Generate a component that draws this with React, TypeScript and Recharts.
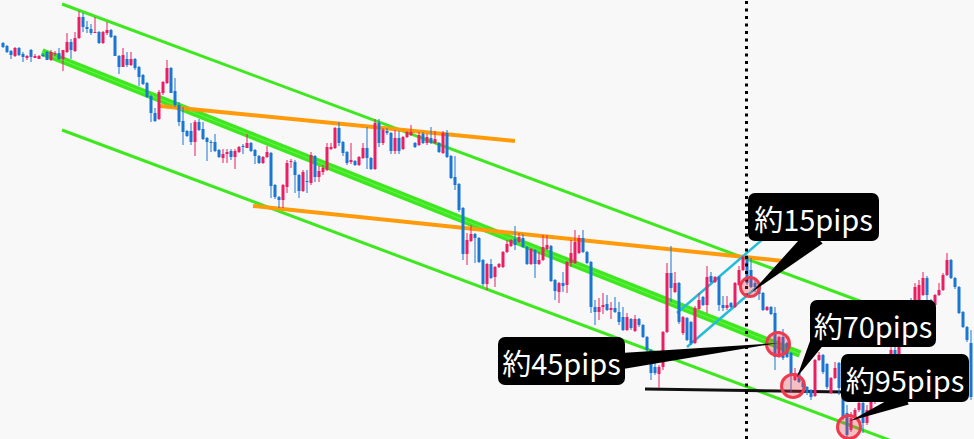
import React from "react";
import {
  ComposedChart,
  Bar,
  XAxis,
  YAxis,
  ReferenceLine,
  ReferenceDot,
  ReferenceArea,
} from "recharts";

// 5-minute candles, USD/JPY
const opens = [
  150.57, 150.54, 150.49, 150.44, 150.52, 150.46, 150.42, 150.5, 150.42, 150.41,
  150.45, 150.48, 150.4, 150.46, 150.47, 150.41, 150.48, 150.58, 150.49, 150.62,
  150.83, 150.73, 150.71, 150.67, 150.68, 150.57, 150.67, 150.7, 150.64, 150.44,
  150.33, 150.41, 150.35, 150.41, 150.33, 150.25, 150.17, 150.04, 149.87, 149.81,
  150.07, 150.17, 150.32, 150.09, 149.95, 149.79, 149.69, 149.69, 149.58, 149.78,
  149.71, 149.62, 149.58, 149.58, 149.5, 149.42, 149.46, 149.49, 149.43, 149.48,
  149.54, 149.52, 149.57, 149.5, 149.44, 149.37, 149.43, 149.47, 149.15, 149.03,
  149.0, 149.13, 149.38, 149.38, 149.25, 149.09, 149.19, 149.17, 149.44, 149.23,
  149.28, 149.3, 149.51, 149.52, 149.72, 149.58, 149.48, 149.38, 149.39, 149.35,
  149.42, 149.52, 149.42, 149.31, 149.77, 149.57, 149.69, 149.67, 149.49, 149.62,
  149.51, 149.63, 149.65, 149.57, 149.55, 149.66, 149.57, 149.62, 149.57, 149.57,
  149.47, 149.67, 149.44, 149.23, 149.16, 148.92, 148.46, 148.59, 148.66, 148.62,
  148.4, 148.16, 148.36, 148.23, 148.33, 148.33, 148.48, 148.54, 148.61, 148.58,
  148.62, 148.53, 148.36, 148.5, 148.36, 148.4, 148.51, 148.54, 148.2, 148.08,
  148.17, 148.15, 148.37, 148.37, 148.47, 148.62, 148.48, 148.38, 147.93, 147.88,
  147.93, 147.96, 147.9, 147.92, 147.88, 147.83, 147.7, 147.81, 147.69, 147.81,
  147.75, 147.63, 147.5, 147.33, 147.26, 147.33, 147.68, 148.27, 148.08, 148.17,
  147.67, 147.82, 147.78, 147.57, 147.91, 148.03, 147.95, 148.24, 148.18, 148.23,
  147.95, 147.92, 147.97, 147.93, 148.15, 148.3, 148.43, 148.3, 148.17, 148.13,
  148.07, 147.9, 147.93, 147.87, 147.43, 147.63, 147.57, 147.47, 147.2, 147.27,
  147.18, 147.13, 147.1, 147.04, 147.4, 147.45, 147.36, 147.07, 147.22, 147.37,
  147.12, 146.87, 146.7, 146.82, 146.9, 146.97, 146.77, 146.9, 146.98, 147.08,
  147.2, 147.12, 147.35, 147.5, 147.38, 147.65, 147.8, 147.95, 147.85, 148.0,
  148.05, 148.22, 148.0, 147.95, 148.05, 148.1, 148.25, 148.4, 148.22, 148.13,
  147.88, 147.73, 147.57,
];

const highs = [
  150.58, 150.55, 150.5, 150.53, 150.53, 150.48, 150.45, 150.51, 150.46, 150.45,
  150.47, 150.49, 150.5, 150.49, 150.52, 150.5, 150.67, 150.61, 150.68, 150.89,
  150.87, 150.79, 150.76, 150.83, 150.69, 150.69, 150.78, 150.71, 150.65, 150.45,
  150.52, 150.48, 150.48, 150.42, 150.34, 150.26, 150.18, 150.05, 149.92, 150.1,
  150.19, 150.4, 150.33, 150.22, 149.98, 149.93, 149.7, 149.77, 149.8, 149.81,
  149.78, 149.63, 149.6, 149.66, 149.51, 149.51, 149.51, 149.51, 149.51, 149.54,
  149.56, 149.66, 149.58, 149.51, 149.45, 149.44, 149.54, 149.48, 149.16, 149.04,
  149.16, 149.4, 149.41, 149.4, 149.26, 149.3, 149.3, 149.48, 149.45, 149.34,
  149.35, 149.57, 149.57, 149.73, 149.78, 149.59, 149.49, 149.57, 149.4, 149.44,
  149.57, 149.73, 149.43, 149.81, 149.81, 149.72, 149.72, 149.68, 149.7, 149.69,
  149.64, 149.69, 149.75, 149.58, 149.68, 149.68, 149.66, 149.73, 149.69, 149.58,
  149.69, 149.7, 149.45, 149.44, 149.17, 148.93, 148.67, 148.75, 148.67, 148.63,
  148.41, 148.37, 148.41, 148.34, 148.37, 148.49, 148.6, 148.61, 148.74, 148.67,
  148.66, 148.54, 148.52, 148.51, 148.48, 148.65, 148.65, 148.55, 148.21, 148.18,
  148.28, 148.39, 148.6, 148.7, 148.65, 148.7, 148.49, 148.39, 148.0, 148.02,
  148.07, 148.05, 147.98, 148.03, 147.98, 147.93, 147.87, 147.82, 147.85, 147.82,
  147.76, 147.64, 147.51, 147.4, 147.35, 147.69, 148.37, 148.54, 148.28, 148.18,
  147.84, 147.83, 147.79, 147.94, 148.07, 148.04, 148.34, 148.28, 148.24, 148.24,
  148.04, 148.04, 147.98, 148.18, 148.34, 148.44, 148.45, 148.42, 148.2, 148.14,
  148.08, 147.94, 147.94, 147.93, 147.64, 147.71, 147.58, 147.48, 147.32, 147.28,
  147.2, 147.14, 147.11, 147.41, 147.48, 147.46, 147.37, 147.23, 147.38, 147.38,
  147.13, 146.95, 146.88, 146.92, 147.0, 146.98, 146.95, 147.02, 147.12, 147.25,
  147.3, 147.4, 147.55, 147.6, 147.7, 147.82, 148.0, 148.02, 148.17, 148.2,
  148.28, 148.24, 148.01, 148.06, 148.17, 148.27, 148.47, 148.41, 148.23, 148.14,
  147.89, 147.74, 147.7,
];

const lows = [
  150.52, 150.47, 150.41, 150.43, 150.44, 150.38, 150.4, 150.38, 150.42, 150.41,
  150.43, 150.4, 150.39, 150.44, 150.4, 150.29, 150.47, 150.41, 150.48, 150.61,
  150.68, 150.67, 150.65, 150.67, 150.56, 150.56, 150.65, 150.62, 150.44, 150.26,
  150.33, 150.33, 150.34, 150.3, 150.14, 150.15, 150.02, 149.78, 149.78, 149.8,
  150.05, 150.16, 150.07, 149.93, 149.74, 149.55, 149.63, 149.55, 149.44, 149.69,
  149.6, 149.39, 149.48, 149.48, 149.42, 149.37, 149.37, 149.4, 149.31, 149.47,
  149.46, 149.52, 149.48, 149.36, 149.36, 149.36, 149.42, 149.02, 149.01, 148.92,
  148.92, 149.07, 149.32, 149.07, 149.02, 149.08, 149.07, 149.15, 149.18, 149.18,
  149.25, 149.29, 149.5, 149.51, 149.54, 149.44, 149.35, 149.36, 149.34, 149.34,
  149.41, 149.31, 149.3, 149.3, 149.53, 149.55, 149.65, 149.46, 149.46, 149.46,
  149.5, 149.62, 149.64, 149.52, 149.54, 149.56, 149.55, 149.56, 149.56, 149.47,
  149.46, 149.42, 149.21, 149.1, 148.88, 148.4, 148.35, 148.58, 148.37, 148.37,
  148.14, 148.1, 148.21, 148.13, 148.32, 148.32, 148.47, 148.53, 148.5, 148.57,
  148.52, 148.35, 148.35, 148.22, 148.35, 148.39, 148.5, 148.18, 148.0, 147.97,
  148.08, 148.07, 148.33, 148.36, 148.46, 148.47, 148.36, 147.87, 147.75, 147.8,
  147.86, 147.89, 147.81, 147.87, 147.75, 147.69, 147.69, 147.7, 147.68, 147.73,
  147.62, 147.48, 147.2, 147.25, 147.12, 147.3, 147.67, 147.98, 148.07, 147.76,
  147.65, 147.59, 147.55, 147.56, 147.9, 147.94, 147.87, 148.17, 148.17, 147.89,
  147.89, 147.9, 147.92, 147.92, 148.14, 148.29, 148.15, 148.12, 148.08, 148.0,
  147.89, 147.89, 147.85, 147.3, 147.42, 147.4, 147.42, 147.07, 147.19, 147.17,
  147.07, 147.05, 147.0, 147.03, 147.39, 147.26, 147.11, 147.06, 147.21, 147.05,
  146.8, 146.61, 146.68, 146.8, 146.88, 146.67, 146.75, 146.88, 146.96, 147.06,
  147.08, 147.1, 147.32, 147.36, 147.37, 147.6, 147.75, 147.8, 147.84, 147.98,
  148.04, 147.98, 147.88, 147.87, 148.04, 148.09, 148.24, 148.21, 148.11, 147.86,
  147.72, 147.58, 147.0,
];

const closes = [
  150.53, 150.48, 150.45, 150.52, 150.45, 150.43, 150.44, 150.43, 150.44, 150.44,
  150.44, 150.4, 150.48, 150.47, 150.41, 150.5, 150.58, 150.5, 150.62, 150.83,
  150.73, 150.71, 150.67, 150.68, 150.57, 150.68, 150.7, 150.63, 150.44, 150.33,
  150.45, 150.35, 150.41, 150.32, 150.23, 150.16, 150.03, 149.87, 149.79, 150.08,
  150.18, 150.32, 150.07, 149.95, 149.78, 149.68, 149.64, 149.58, 149.78, 149.7,
  149.61, 149.58, 149.57, 149.49, 149.43, 149.46, 149.48, 149.43, 149.49, 149.53,
  149.53, 149.57, 149.49, 149.44, 149.37, 149.43, 149.48, 149.14, 149.03, 149.0,
  149.15, 149.37, 149.39, 149.25, 149.09, 149.28, 149.18, 149.45, 149.23, 149.29,
  149.32, 149.53, 149.53, 149.72, 149.57, 149.47, 149.37, 149.4, 149.35, 149.43,
  149.52, 149.42, 149.31, 149.77, 149.57, 149.7, 149.67, 149.49, 149.62, 149.49,
  149.63, 149.68, 149.68, 149.53, 149.65, 149.57, 149.63, 149.57, 149.61, 149.48,
  149.67, 149.43, 149.22, 149.15, 148.9, 148.46, 148.6, 148.66, 148.62, 148.38,
  148.16, 148.36, 148.22, 148.33, 148.36, 148.48, 148.56, 148.6, 148.55, 148.63,
  148.53, 148.36, 148.51, 148.36, 148.4, 148.53, 148.55, 148.19, 148.09, 148.17,
  148.14, 148.38, 148.47, 148.58, 148.62, 148.48, 148.37, 147.93, 147.88, 147.93,
  147.95, 147.9, 147.92, 147.88, 147.78, 147.7, 147.83, 147.72, 147.81, 147.75,
  147.63, 147.5, 147.27, 147.27, 147.33, 147.68, 148.27, 148.12, 148.17, 147.78,
  147.83, 147.6, 147.57, 147.92, 148.0, 147.95, 148.23, 148.18, 148.23, 147.95,
  147.92, 147.95, 147.93, 148.17, 148.3, 148.43, 148.17, 148.13, 148.13, 148.06,
  147.9, 147.93, 147.86, 147.43, 147.63, 147.42, 147.43, 147.25, 147.27, 147.18,
  147.13, 147.07, 147.03, 147.4, 147.45, 147.28, 147.13, 147.22, 147.32, 147.12,
  146.83, 146.65, 146.82, 146.9, 146.97, 146.77, 146.9, 146.98, 147.08, 147.2,
  147.12, 147.35, 147.5, 147.38, 147.65, 147.8, 147.95, 147.85, 148.13, 148.15,
  148.22, 148.05, 147.9, 148.05, 148.1, 148.25, 148.4, 148.22, 148.13, 147.87,
  147.73, 147.6, 147.03,
];

// drawn lines: [startIndex, startPrice, endIndex, endPrice]
const channelUpper = [14.625, 150.96, 224.125, 147.84];
const channelMid = [9.625, 150.48, 199.125, 147.46];
const channelLower = [14.625, 149.7, 224.125, 146.56];
const rangeTop = [39.125, 149.94, 127.875, 149.59];
const rangeBottom = [62.375, 148.94, 194.875, 148.39];
const flagUpper = [168.375, 147.87, 191.625, 148.67];
const flagLower = [170.875, 147.53, 188.375, 148.13];
const supportLine = [160.375, 147.11, 210.375, 147.08];
const sessionBreak = 185.75;

// marked touches: [index, price, radius]
const touches = [
  [186.625, 148.13, 9.5],
  [193.625, 147.56, 11.5],
  [197.375, 147.14, 11.5],
  [211.375, 146.73, 11.5],
];

// callouts: label, box [x1, top, x2, bottom], pointer [rootX, rootY, tipX, tipY, halfWidth]
const calloutLabels = ["約15pips", "約45pips", "約70pips", "約95pips"];
const calloutBoxes = [
  [186.125, 149.07, 218.875, 148.59],
  [123.625, 147.63, 155.375, 147.15],
  [201.625, 148.0, 233.125, 147.53],
  [209.375, 147.46, 241.375, 146.98],
];
const calloutPointers = [
  [203.125, 148.64, 187.125, 148.08, 10],
  [154.625, 147.39, 193.625, 147.57, 8],
  [203.375, 147.58, 198.375, 147.23, 7],
  [225.625, 147.02, 211.625, 146.79, 7],
];

const UP = "#e91e63";
const DOWN = "#1976d2";
const GREEN = "#3ee81f";
const ORANGE = "#ff9a0a";
const CYAN = "#22bcd9";
const FONT = '"Noto Sans CJK JP", "Noto Sans", sans-serif';

const rows = opens.map((o, i) => ({
  i,
  open: o,
  high: highs[i],
  low: lows[i],
  close: closes[i],
  range: [lows[i], highs[i]],
}));

function Candle(props: any) {
  const { x, y, width, height, payload } = props;
  const { open, close, high, low } = payload;
  const top = Math.min(y, y + height);
  const span = Math.abs(height);
  const toPx = (v: number) =>
    high === low ? top : top + ((high - v) / (high - low)) * span;
  const color = close >= open ? UP : DOWN;
  const bodyTop = toPx(Math.max(open, close));
  const bodyBottom = toPx(Math.min(open, close));
  const cx = x + width / 2;
  return (
    <g>
      <line x1={cx} x2={cx} y1={top} y2={top + span} stroke={color} strokeWidth={1} />
      <rect
        x={x}
        y={bodyTop}
        width={width}
        height={Math.max(1, bodyBottom - bodyTop)}
        fill={color}
      />
    </g>
  );
}

function Pointer(props: any) {
  const { x1, y1, x2, y2, half } = props;
  const dx = x2 - x1;
  const dy = y2 - y1;
  const len = Math.hypot(dx, dy) || 1;
  const nx = (-dy / len) * half;
  const ny = (dx / len) * half;
  return (
    <polygon
      points={`${x1 + nx},${y1 + ny} ${x1 - nx},${y1 - ny} ${x2},${y2}`}
      fill="#000"
    />
  );
}

function CalloutBox(props: any) {
  const { x, y, width, height, text } = props;
  return (
    <g>
      <rect x={x} y={y} width={width} height={height} rx={7} ry={7} fill="#000" />
      <text
        x={x + width / 2}
        y={y + height / 2 + 1}
        textAnchor="middle"
        dominantBaseline="central"
        fill="#fff"
        fontSize={29}
        fontFamily={FONT}
      >
        {text}
      </text>
    </g>
  );
}

function seg(l: number[]) {
  return [
    { x: l[0], y: l[1] },
    { x: l[2], y: l[3] },
  ];
}

export default function App() {
  return (
    <div
      style={{
        position: "absolute",
        left: 0,
        top: 0,
        width: 974,
        height: 439,
        background: "#f8f8f8",
        overflow: "hidden",
      }}
    >
      <ComposedChart
        width={974}
        height={439}
        data={rows}
        margin={{ top: 0, right: 0, bottom: 0, left: 0 }}
      >
        <XAxis
          type="number"
          dataKey="i"
          domain={[-0.875, 242.625]}
          allowDataOverflow
          hide
        />
        <YAxis type="number" domain={[146.61, 151]} allowDataOverflow hide />

        {/* channel and range lines, under the candles */}
        <ReferenceLine segment={seg(channelUpper)} stroke={GREEN} strokeWidth={3} ifOverflow="hidden" zIndex={250} />
        <ReferenceLine segment={seg(channelLower)} stroke={GREEN} strokeWidth={3} ifOverflow="hidden" zIndex={250} />
        <ReferenceLine segment={seg(channelMid)} stroke={GREEN} strokeWidth={7.5} ifOverflow="hidden" zIndex={250} />
        <ReferenceLine segment={seg(channelMid)} stroke="#6cef52" strokeWidth={1} ifOverflow="hidden" zIndex={250} />
        <ReferenceLine segment={seg(rangeTop)} stroke={ORANGE} strokeWidth={4} ifOverflow="hidden" zIndex={250} />
        <ReferenceLine segment={seg(rangeBottom)} stroke={ORANGE} strokeWidth={4} ifOverflow="hidden" zIndex={250} />
        <ReferenceLine segment={seg(flagUpper)} stroke={CYAN} strokeWidth={2.5} ifOverflow="hidden" zIndex={250} />
        <ReferenceLine segment={seg(flagLower)} stroke={CYAN} strokeWidth={2.5} ifOverflow="hidden" zIndex={250} />
        <ReferenceLine segment={seg(supportLine)} stroke="#111" strokeWidth={3} ifOverflow="hidden" zIndex={250} />

        <Bar
          dataKey="range"
          barSize={3}
          shape={<Candle />}
          isAnimationActive={false}
          zIndex={300}
        />

        <ReferenceLine
          x={sessionBreak}
          stroke="#000"
          strokeWidth={3}
          strokeDasharray="3 4.5"
          zIndex={400}
        />

        {touches.map((t, k) => (
          <ReferenceDot
            key={`t${k}`}
            x={t[0]}
            y={t[1]}
            r={t[2]}
            fill="rgba(242,54,69,0.3)"
            stroke="#ef3a4e"
            strokeWidth={3}
            zIndex={600}
          />
        ))}

        {calloutPointers.map((p, k) => (
          <ReferenceLine
            key={`p${k}`}
            segment={[
              { x: p[0], y: p[1] },
              { x: p[2], y: p[3] },
            ]}
            ifOverflow="visible"
            shape={(sp: any) => <Pointer {...sp} half={p[4]} />}
            zIndex={700}
          />
        ))}

        {calloutBoxes.map((b, k) => (
          <ReferenceArea
            key={`b${k}`}
            x1={b[0]}
            y1={b[1]}
            x2={b[2]}
            y2={b[3]}
            ifOverflow="visible"
            shape={(sp: any) => <CalloutBox {...sp} text={calloutLabels[k]} />}
            zIndex={800}
          />
        ))}
      </ComposedChart>
    </div>
  );
}
